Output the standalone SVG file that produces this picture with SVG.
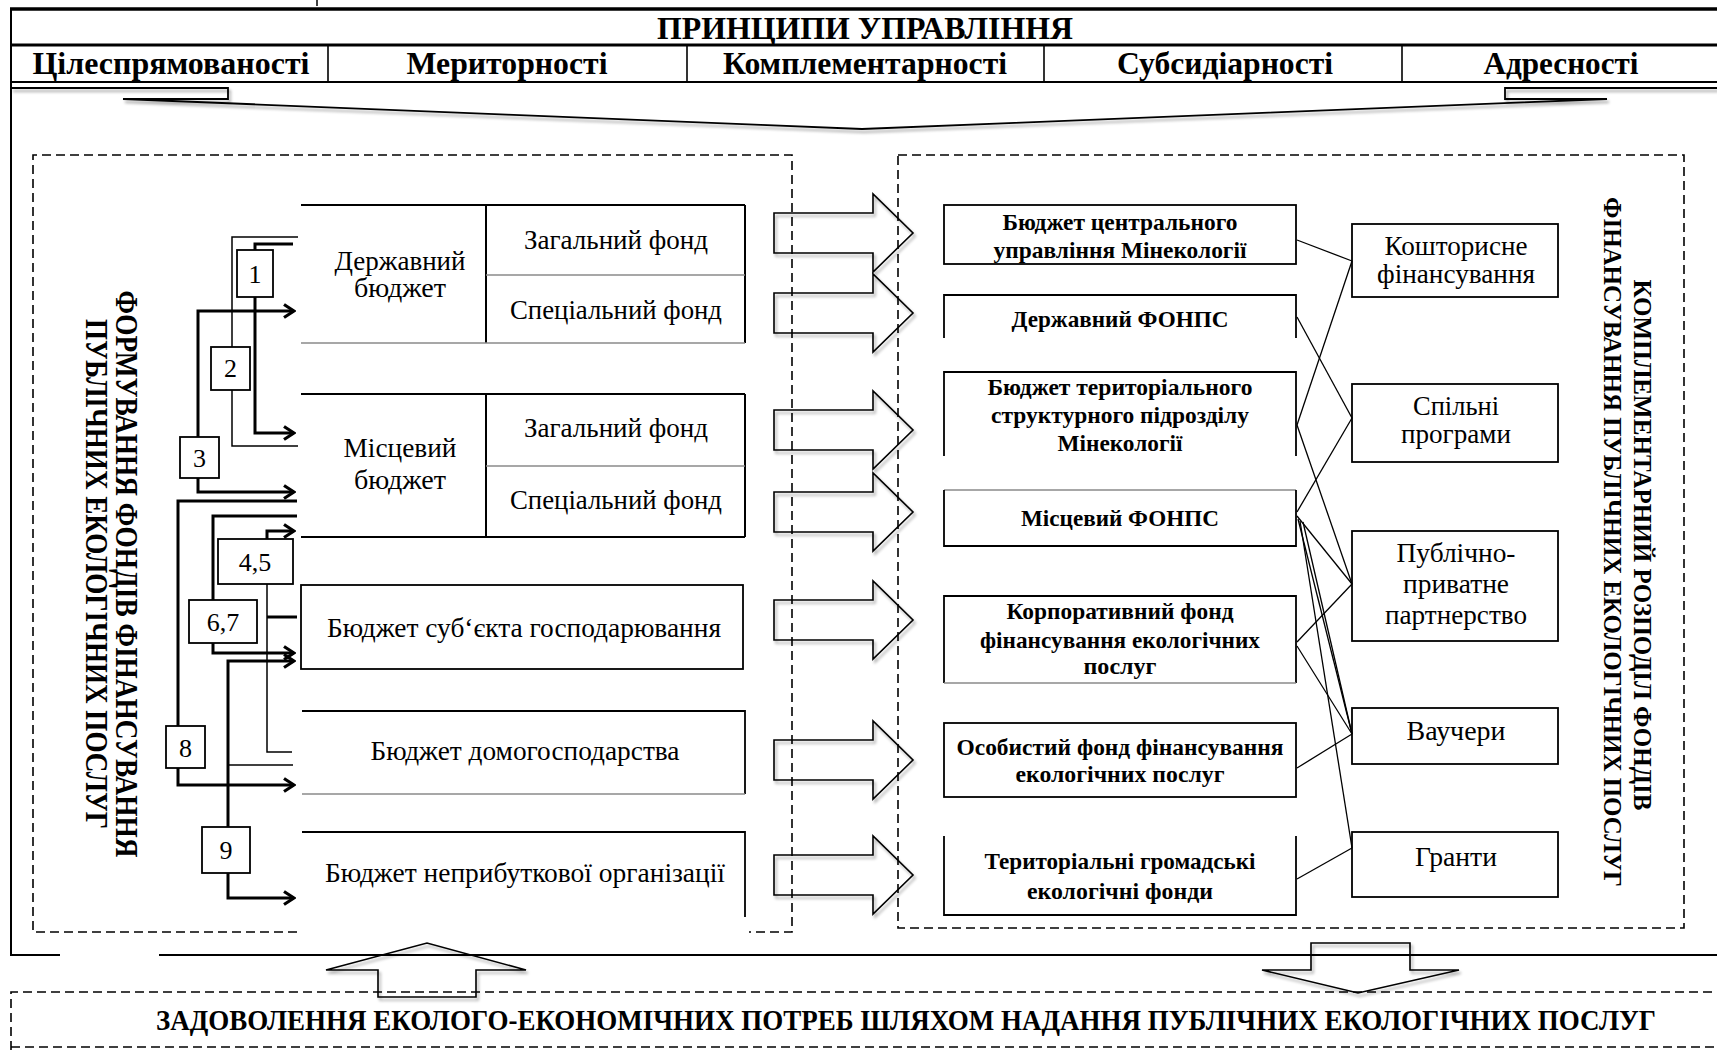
<svg xmlns="http://www.w3.org/2000/svg" width="1717" height="1050" viewBox="0 0 1717 1050">
<style>
  .t { font-family: "Liberation Serif", "Times New Roman", serif; fill: #000; }
  .b { font-weight: bold; }
  .hd { font-size: 31px; font-weight: bold; }
  .lb { font-size: 27px; }
  .mid { font-size: 23px; font-weight: bold; }
  .rt { font-size: 27px; }
  .num { font-size: 26px; }
  .ln { stroke: #000; fill: none; }
  .thk { stroke: #000; stroke-width: 3; fill: none; }
  .thn { stroke: #000; stroke-width: 1.5; fill: none; }
  .gry { stroke: #8a8a8a; stroke-width: 1.5; fill: none; }
  .box { fill: #fff; stroke: #000; stroke-width: 1.8; }
  .dash { fill: none; stroke: #000; stroke-width: 1.6; stroke-dasharray: 9 5; }
  .blk { fill: none; stroke: #000; stroke-width: 1.6; stroke-linejoin: miter; }
  .lnk { stroke: #000; stroke-width: 1.3; fill: none; }
</style>
<defs>
  <marker id="ah" viewBox="0 0 14 16" refX="12" refY="8" markerWidth="14" markerHeight="16" markerUnits="userSpaceOnUse" orient="auto">
    <path d="M2,1.5 L12,8 L2,14.5" fill="none" stroke="#000" stroke-width="3.2"/>
  </marker>
  <filter id="soft" x="-10%" y="-10%" width="130%" height="140%">
    <feGaussianBlur in="SourceAlpha" stdDeviation="1.6"/>
    <feOffset dx="2" dy="3" result="o"/>
    <feComponentTransfer><feFuncA type="linear" slope="0.35"/></feComponentTransfer>
    <feMerge><feMergeNode/><feMergeNode in="SourceGraphic"/></feMerge>
  </filter>
</defs>

<rect x="0" y="0" width="1717" height="1050" fill="#fff"/>

<!-- outer frame -->
<g id="frame">
  <line class="thn" x1="317" y1="0" x2="317" y2="6"/>
  <line class="ln" stroke-width="3.5" x1="10" y1="9" x2="1717" y2="9"/>
  <line class="ln" stroke-width="2" x1="11" y1="9" x2="11" y2="955"/>
  <line class="ln" stroke-width="2" x1="10" y1="955" x2="60" y2="955"/>
  <line class="ln" stroke-width="2" x1="159" y1="955" x2="1717" y2="955"/>
</g>

<!-- management principles header -->
<g id="principles">
  <text class="t hd" x="865" y="39" text-anchor="middle" textLength="416" lengthAdjust="spacingAndGlyphs">ПРИНЦИПИ УПРАВЛІННЯ</text>
  <line class="ln" stroke-width="3" x1="11" y1="45" x2="1717" y2="45"/>
  <line class="ln" stroke-width="2.2" x1="11" y1="82" x2="1717" y2="82"/>
  <line class="ln" stroke-width="1.6" x1="328" y1="45" x2="328" y2="82"/>
  <line class="ln" stroke-width="1.6" x1="687" y1="45" x2="687" y2="82"/>
  <line class="ln" stroke-width="1.6" x1="1044" y1="45" x2="1044" y2="82"/>
  <line class="ln" stroke-width="1.6" x1="1402" y1="45" x2="1402" y2="82"/>
  <text class="t hd" x="171" y="74" text-anchor="middle" textLength="277" lengthAdjust="spacingAndGlyphs">Цілеспрямованості</text>
  <text class="t hd" x="507" y="74" text-anchor="middle" textLength="201" lengthAdjust="spacingAndGlyphs">Мериторності</text>
  <text class="t hd" x="865" y="74" text-anchor="middle" textLength="284" lengthAdjust="spacingAndGlyphs">Комплементарності</text>
  <text class="t hd" x="1225" y="74" text-anchor="middle" textLength="216" lengthAdjust="spacingAndGlyphs">Субсидіарності</text>
  <text class="t hd" x="1561" y="74" text-anchor="middle" textLength="155" lengthAdjust="spacingAndGlyphs">Адресності</text>
</g>

<!-- brace under the principles -->
<g id="brace" filter="url(#soft)">
  <path class="ln" stroke-width="1.8" d="M11,88 H228 V99 H123 L862,129 L1607,99 H1505 V88 H1717"/>
</g>

<!-- dashed groupings -->
<g id="zones">
  <path class="dash" d="M297,932 H33 V155 H792 V932 H749"/>
  <rect class="dash" x="898" y="155" width="786" height="773"/>
  <path class="dash" d="M11,1050 V992 H1717"/>
  <line class="dash" stroke="#aaa" x1="11" y1="1047" x2="1717" y2="1047"/>
</g>

<!-- side captions -->
<g id="caption-left">
  <text class="t b" font-size="31" transform="translate(116,574) rotate(90)" text-anchor="middle" textLength="567" lengthAdjust="spacingAndGlyphs">ФОРМУВАННЯ ФОНДІВ ФІНАНСУВАННЯ</text>
  <text class="t b" font-size="31" transform="translate(86,574) rotate(90)" text-anchor="middle" textLength="510" lengthAdjust="spacingAndGlyphs">ПУБЛІЧНИХ ЕКОЛОГІЧНИХ ПОСЛУГ</text>
</g>
<g id="caption-right">
  <text class="t b" font-size="26" transform="translate(1634,545) rotate(90)" text-anchor="middle" textLength="531" lengthAdjust="spacingAndGlyphs">КОМПЛЕМЕНТАРНИЙ РОЗПОДІЛ ФОНДІВ</text>
  <text class="t b" font-size="26" transform="translate(1604,542) rotate(90)" text-anchor="middle" textLength="690" lengthAdjust="spacingAndGlyphs">ФІНАНСУВАННЯ ПУБЛІЧНИХ ЕКОЛОГІЧНИХ ПОСЛУГ</text>
</g>

<!-- budgets (left column) -->
<g id="state-budget">
  <line class="ln" stroke-width="2.2" x1="301" y1="205" x2="745" y2="205"/>
  <line class="ln" stroke-width="2" x1="745" y1="205" x2="745" y2="343"/>
  <line class="ln" stroke-width="2" x1="486" y1="205" x2="486" y2="343"/>
  <line class="gry" x1="486" y1="275" x2="745" y2="275"/>
  <line class="gry" x1="301" y1="343" x2="745" y2="343"/>
  <text class="t lb" x="400" y="270" text-anchor="middle" textLength="131" lengthAdjust="spacingAndGlyphs">Державний</text>
  <text class="t lb" x="400" y="297" text-anchor="middle" textLength="92" lengthAdjust="spacingAndGlyphs">бюджет</text>
  <text class="t lb" x="616" y="249" text-anchor="middle" textLength="184" lengthAdjust="spacingAndGlyphs">Загальний фонд</text>
  <text class="t lb" x="616" y="319" text-anchor="middle" textLength="212" lengthAdjust="spacingAndGlyphs">Спеціальний фонд</text>
</g>
<g id="local-budget">
  <line class="ln" stroke-width="2" x1="301" y1="394" x2="745" y2="394"/>
  <line class="ln" stroke-width="2" x1="745" y1="394" x2="745" y2="537"/>
  <line class="ln" stroke-width="2" x1="486" y1="394" x2="486" y2="537"/>
  <line class="gry" x1="486" y1="466" x2="745" y2="466"/>
  <line class="ln" stroke-width="2" x1="301" y1="537" x2="745" y2="537"/>
  <text class="t lb" x="400" y="457" text-anchor="middle" textLength="113" lengthAdjust="spacingAndGlyphs">Місцевий</text>
  <text class="t lb" x="400" y="489" text-anchor="middle" textLength="92" lengthAdjust="spacingAndGlyphs">бюджет</text>
  <text class="t lb" x="616" y="437" text-anchor="middle" textLength="184" lengthAdjust="spacingAndGlyphs">Загальний фонд</text>
  <text class="t lb" x="616" y="509" text-anchor="middle" textLength="212" lengthAdjust="spacingAndGlyphs">Спеціальний фонд</text>
</g>
<g id="enterprise-budget">
  <rect class="box" x="301" y="585" width="442" height="84"/>
  <text class="t lb" x="524" y="637" text-anchor="middle" textLength="394" lengthAdjust="spacingAndGlyphs">Бюджет суб‘єкта господарювання</text>
</g>
<g id="household-budget">
  <path class="ln" stroke-width="1.8" d="M302,711 H745 V794"/>
  <line class="gry" x1="302" y1="794" x2="745" y2="794"/>
  <text class="t lb" x="525" y="760" text-anchor="middle" textLength="309" lengthAdjust="spacingAndGlyphs">Бюджет домогосподарства</text>
</g>
<g id="nonprofit-budget">
  <rect x="302" y="832" width="443" height="105" fill="#fff"/>
  <path class="ln" stroke-width="1.8" d="M302,832 H745 V917"/>
  <text class="t lb" x="525" y="882" text-anchor="middle" textLength="400" lengthAdjust="spacingAndGlyphs">Бюджет неприбуткової організації</text>
</g>

<!-- numbered source markers -->
<g id="n1"><rect class="box" x="237" y="250" width="36" height="47"/><text class="t num" x="255" y="283" text-anchor="middle">1</text></g>
<g id="n2"><rect class="box" x="211" y="347" width="39" height="43"/><text class="t num" x="230.5" y="377" text-anchor="middle">2</text></g>
<g id="n3"><rect class="box" x="180" y="437" width="39" height="41"/><text class="t num" x="199.5" y="467" text-anchor="middle">3</text></g>
<g id="n45"><rect class="box" x="218" y="539" width="75" height="45"/><text class="t num" x="255" y="571" text-anchor="middle">4,5</text></g>
<g id="n67"><rect class="box" x="189" y="600" width="68" height="43"/><text class="t num" x="223" y="631" text-anchor="middle">6,7</text></g>
<g id="n8"><rect class="box" x="166" y="726" width="39" height="42"/><text class="t num" x="185.5" y="757" text-anchor="middle">8</text></g>
<g id="n9"><rect class="box" x="202" y="827" width="48" height="46"/><text class="t num" x="226" y="859" text-anchor="middle">9</text></g>

<!-- funds (middle column) -->
<g id="fund-central">
  <rect class="box" x="944" y="205" width="352" height="59"/>
  <text class="t mid" x="1120" y="230" text-anchor="middle" textLength="235" lengthAdjust="spacingAndGlyphs">Бюджет центрального</text>
  <text class="t mid" x="1120" y="258" text-anchor="middle" textLength="253" lengthAdjust="spacingAndGlyphs">управління Мінекології</text>
</g>
<g id="fund-state-fonps">
  <path class="ln" stroke-width="1.8" d="M944,338 V295 H1296 V338"/>
  <text class="t mid" x="1120" y="327" text-anchor="middle" textLength="217" lengthAdjust="spacingAndGlyphs">Державний ФОНПС</text>
</g>
<g id="fund-territorial">
  <path class="ln" stroke-width="1.8" d="M944,456 V372 H1296 V456"/>
  <text class="t mid" x="1120" y="395" text-anchor="middle" textLength="265" lengthAdjust="spacingAndGlyphs">Бюджет територіального</text>
  <text class="t mid" x="1120" y="423" text-anchor="middle" textLength="258" lengthAdjust="spacingAndGlyphs">структурного підрозділу</text>
  <text class="t mid" x="1120" y="451" text-anchor="middle" textLength="125" lengthAdjust="spacingAndGlyphs">Мінекології</text>
</g>
<g id="fund-local-fonps">
  <line class="gry" x1="944" y1="490" x2="1296" y2="490"/>
  <path class="ln" stroke-width="1.8" d="M944,490 V546 H1296 V490"/>
  <text class="t mid" x="1120" y="526" text-anchor="middle" textLength="198" lengthAdjust="spacingAndGlyphs">Місцевий ФОНПС</text>
</g>
<g id="fund-corporate">
  <path class="ln" stroke-width="1.8" d="M944,683 V596 H1296 V683"/>
  <line class="gry" x1="944" y1="683" x2="1296" y2="683"/>
  <text class="t mid" x="1120" y="619" text-anchor="middle" textLength="227" lengthAdjust="spacingAndGlyphs">Корпоративний фонд</text>
  <text class="t mid" x="1120" y="648" text-anchor="middle" textLength="280" lengthAdjust="spacingAndGlyphs">фінансування екологічних</text>
  <text class="t mid" x="1120" y="674" text-anchor="middle" textLength="73" lengthAdjust="spacingAndGlyphs">послуг</text>
</g>
<g id="fund-personal">
  <rect class="box" x="944" y="723" width="352" height="74"/>
  <text class="t mid" x="1120" y="755" text-anchor="middle" textLength="327" lengthAdjust="spacingAndGlyphs">Особистий фонд фінансування</text>
  <text class="t mid" x="1120" y="782" text-anchor="middle" textLength="209" lengthAdjust="spacingAndGlyphs">екологічних послуг</text>
</g>
<g id="fund-community">
  <path class="ln" stroke-width="1.8" d="M944,836 V915 H1296 V836"/>
  <text class="t mid" x="1120" y="869" text-anchor="middle" textLength="271" lengthAdjust="spacingAndGlyphs">Територіальні громадські</text>
  <text class="t mid" x="1120" y="899" text-anchor="middle" textLength="186" lengthAdjust="spacingAndGlyphs">екологічні фонди</text>
</g>

<!-- distribution forms (right column) -->
<g id="form-estimate">
  <rect class="box" x="1352" y="224" width="206" height="73"/>
  <text class="t rt" x="1456" y="255" text-anchor="middle" textLength="143" lengthAdjust="spacingAndGlyphs">Кошторисне</text>
  <text class="t rt" x="1456" y="283" text-anchor="middle" textLength="158" lengthAdjust="spacingAndGlyphs">фінансування</text>
</g>
<g id="form-joint">
  <rect class="box" x="1352" y="384" width="206" height="78"/>
  <text class="t rt" x="1456" y="415" text-anchor="middle" textLength="86" lengthAdjust="spacingAndGlyphs">Спільні</text>
  <text class="t rt" x="1456" y="443" text-anchor="middle" textLength="110" lengthAdjust="spacingAndGlyphs">програми</text>
</g>
<g id="form-ppp">
  <rect class="box" x="1352" y="531" width="206" height="110"/>
  <text class="t rt" x="1456" y="562" text-anchor="middle" textLength="119" lengthAdjust="spacingAndGlyphs">Публічно-</text>
  <text class="t rt" x="1456" y="593" text-anchor="middle" textLength="106" lengthAdjust="spacingAndGlyphs">приватне</text>
  <text class="t rt" x="1456" y="624" text-anchor="middle" textLength="142" lengthAdjust="spacingAndGlyphs">партнерство</text>
</g>
<g id="form-vouchers">
  <rect class="box" x="1352" y="708" width="206" height="56"/>
  <text class="t rt" x="1456" y="740" text-anchor="middle" textLength="99" lengthAdjust="spacingAndGlyphs">Ваучери</text>
</g>
<g id="form-grants">
  <rect class="box" x="1352" y="832" width="206" height="65"/>
  <text class="t rt" x="1456" y="866" text-anchor="middle" textLength="82" lengthAdjust="spacingAndGlyphs">Гранти</text>
</g>

<!-- bottom outcome band -->
<g id="outcome">
  <text class="t b" font-size="25" transform="translate(906,1030) scale(1,1.2)" x="0" y="0" text-anchor="middle" textLength="1500" lengthAdjust="spacingAndGlyphs">ЗАДОВОЛЕННЯ ЕКОЛОГО-ЕКОНОМІЧНИХ ПОТРЕБ ШЛЯХОМ НАДАННЯ ПУБЛІЧНИХ ЕКОЛОГІЧНИХ ПОСЛУГ</text>
</g>

<!-- connectors -->
<g id="connectors">
  <!-- source flows into budgets -->
  <path class="thk" d="M293,244 H255 V250"/>
  <path class="thk" d="M255,297 V433 H294" marker-end="url(#ah)"/>
  <path class="thn" d="M298,237 H232 V347"/>
  <path class="thn" d="M232,390 V446 H298"/>
  <path class="thk" d="M198,437 V311 H294" marker-end="url(#ah)"/>
  <path class="thk" stroke-width="2.4" d="M198,478 V492 H294" marker-end="url(#ah)"/>
  <path class="thk" d="M297,501 H178 V726"/>
  <path class="thk" d="M178,768 V785 H294" marker-end="url(#ah)"/>
  <path class="thk" d="M297,516 H213 V600"/>
  <path class="thk" d="M213,643 V653 H294" marker-end="url(#ah)"/>
  <path class="thk" stroke-width="2.4" d="M267,539 V531 H294" marker-end="url(#ah)"/>
  <path class="thn" d="M267,584 V752 H292"/>
  <path class="thk" d="M267,617 H297"/>
  <path class="thk" d="M228,827 V661 H294" marker-end="url(#ah)"/>
  <path class="thn" d="M228,765 H293"/>
  <path class="thk" d="M228,873 V898 H294" marker-end="url(#ah)"/>

  <!-- hollow transfer arrows -->
  <g class="blk" filter="url(#soft)">
    <path d="M774,213 H873 V194 L913,233 L873,272 V253 H774 Z"/>
    <path d="M774,293 H873 V274 L913,313 L873,352 V333 H774 Z"/>
    <path d="M774,410 H873 V391 L913,430 L873,469 V450 H774 Z"/>
    <path d="M774,492 H873 V473 L913,512 L873,551 V532 H774 Z"/>
    <path d="M774,600 H873 V581 L913,620 L873,659 V640 H774 Z"/>
    <path d="M774,740 H873 V721 L913,760 L873,799 V780 H774 Z"/>
    <path d="M774,855 H873 V836 L913,875 L873,914 V895 H774 Z"/>
    <path d="M378,997 V970 H326 L427,943 L526,970 H476 V997 Z"/>
    <path d="M1311,943 H1410 V970 H1459 L1358,993 L1262,970 H1311 Z"/>
  </g>

  <!-- funds to distribution forms -->
  <path class="lnk" d="M1297,240 L1352,261"/>
  <path class="lnk" d="M1297,317 L1352,418"/>
  <path class="lnk" d="M1297,425 L1352,261"/>
  <path class="lnk" d="M1297,425 L1352,584"/>
  <path class="lnk" d="M1297,512 L1352,418"/>
  <path class="lnk" d="M1297,516 L1352,584"/>
  <path class="lnk" d="M1298,519 L1352,734"/>
  <path class="lnk" d="M1303,522 L1352,734"/>
  <path class="lnk" d="M1300,521 L1352,848"/>
  <path class="lnk" d="M1297,642 L1352,584"/>
  <path class="lnk" d="M1297,646 L1352,734"/>
  <path class="lnk" d="M1297,768 L1352,734"/>
  <path class="lnk" d="M1297,879 L1352,848"/>
</g>
</svg>
